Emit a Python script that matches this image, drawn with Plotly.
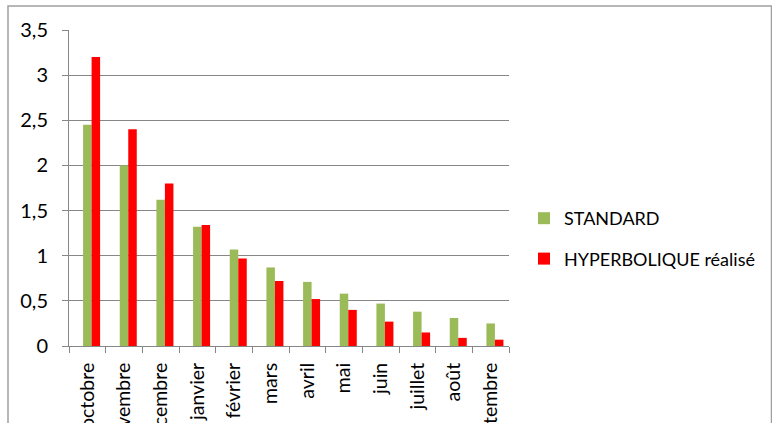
import plotly.graph_objects as go

months = ["octobre", "novembre", "décembre", "janvier", "février", "mars",
          "avril", "mai", "juin", "juillet", "août", "septembre"]
standard = [2.45, 2.00, 1.62, 1.32, 1.07, 0.87, 0.71, 0.58, 0.47, 0.38, 0.31, 0.25]
hyperbolique = [3.20, 2.40, 1.80, 1.34, 0.97, 0.72, 0.52, 0.40, 0.27, 0.15, 0.09, 0.07]

W, H = 772, 423
L, R, T, B = 69, 263, 30, 77
pw, ph = W - L - R, H - T - B

FONT = "Lato, Calibri, 'Noto Sans', sans-serif"
GRID = "#878787"

fig = go.Figure()
fig.add_trace(go.Bar(x=months, y=standard, name="STANDARD",
                     marker=dict(color="#9BBB59", line=dict(width=0)),
                     width=0.232, offset=-0.116, legendgroup="a"))
fig.add_trace(go.Bar(x=months, y=hyperbolique, name="HYPERBOLIQUE réalisé",
                     marker=dict(color="#FF0000", line=dict(width=0)),
                     width=0.232, offset=0.116, legendgroup="b"))

def px_x(p):
    return (p - L) / pw

def px_y(p):
    return (H - B - p) / ph

fig.add_shape(type="rect", xref="paper", yref="paper",
              x0=px_x(8), x1=px_x(771.5), y0=px_y(440), y1=px_y(6),
              line=dict(color="#A0A0A0", width=1.5), layer="below")

fig.update_layout(
    width=W, height=H,
    margin=dict(l=L, r=R, t=T, b=B, autoexpand=False),
    paper_bgcolor="white", plot_bgcolor="white",
    barmode="overlay",
    separators=", ",
    font=dict(family=FONT, size=18, color="#000000"),
    showlegend=True,
    legend=dict(x=px_x(524), y=px_y(200), xanchor="left", yanchor="top",
                font=dict(size=18), tracegroupgap=14,
                bgcolor="rgba(0,0,0,0)"),
)
fig.update_xaxes(type="category", showline=True, linecolor=GRID, linewidth=1,
                 ticks="outside", tickson="boundaries", ticklen=6, tickcolor=GRID,
                 tickangle=-90, showgrid=False, automargin=False,
                 ticklabelstandoff=8, tickfont=dict(size=19.5))
fig.update_yaxes(range=[0, 3.5], dtick=0.5, showline=True, linecolor=GRID, linewidth=1,
                 ticks="outside", ticklen=6, tickcolor=GRID,
                 showgrid=True, gridcolor=GRID, gridwidth=1, zeroline=False,
                 automargin=False, ticklabelstandoff=10, tickfont=dict(size=20))

fig.write_html("out.html")
